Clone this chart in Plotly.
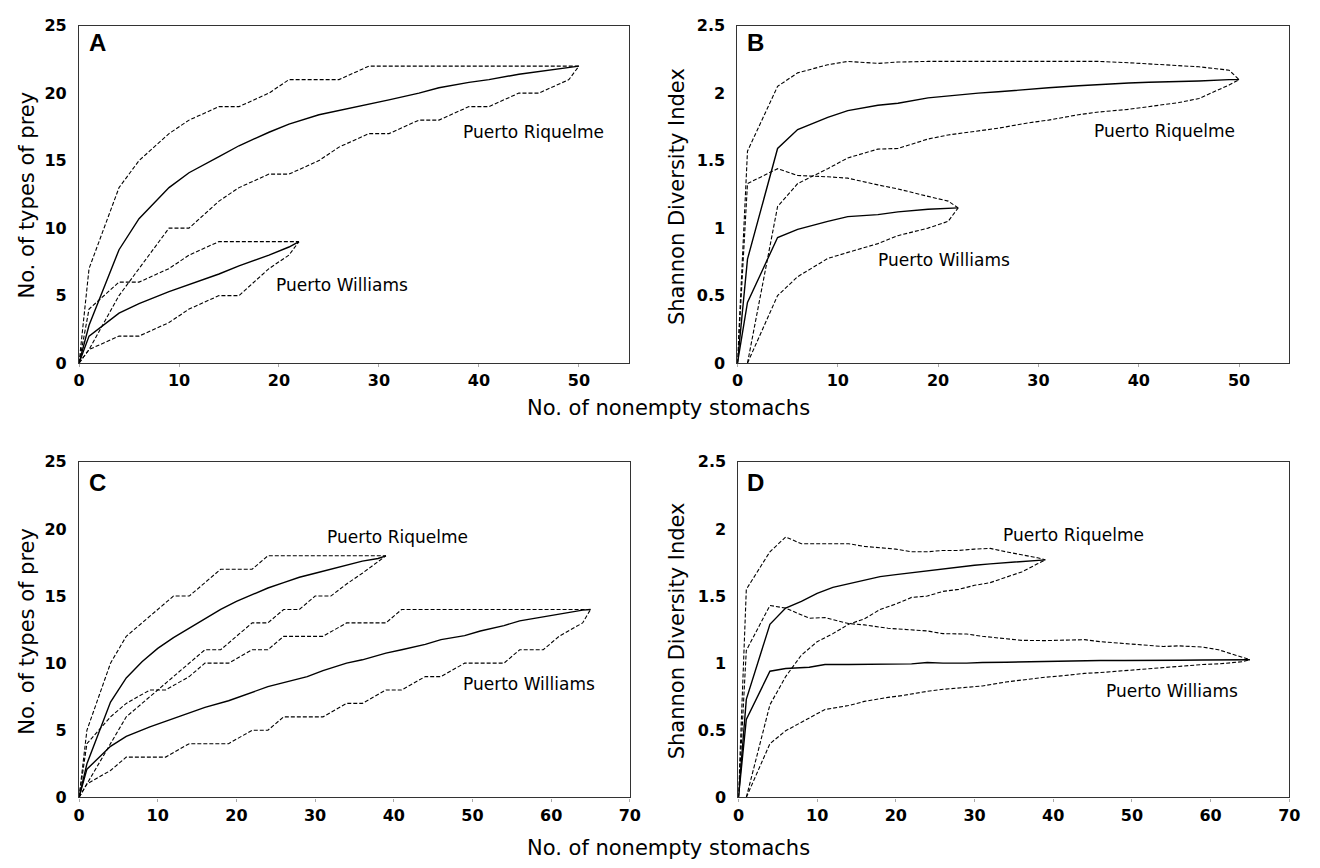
import plotly.graph_objects as go

# ---------------- Panel A: No. of prey types, sample 1 ----------------
a_pr_x = [0, 1, 4, 6, 9, 11, 14, 16, 19, 21, 24, 26, 29, 31, 34, 36, 39, 41, 44, 46, 49, 50]
a_pr_mean = [0, 2.8, 8.4, 10.7, 13.0, 14.1, 15.3, 16.1, 17.1, 17.7, 18.4, 18.7, 19.2, 19.5, 20.0, 20.4, 20.8, 21.0, 21.4, 21.6, 21.9, 22]
a_pr_up = [0, 7, 13, 15, 17, 18, 19, 19, 20, 21, 21, 21, 22, 22, 22, 22, 22, 22, 22, 22, 22, 22]
a_pr_lo = [0, 1, 5, 7, 10, 10, 12, 13, 14, 14, 15, 16, 17, 17, 18, 18, 19, 19, 20, 20, 21, 22]

a_pw_x = [0, 1, 4, 6, 9, 11, 14, 16, 19, 21, 22]
a_pw_mean = [0, 2.0, 3.7, 4.4, 5.3, 5.8, 6.6, 7.2, 8.0, 8.6, 9]
a_pw_up = [0, 4, 6, 6, 7, 8, 9, 9, 9, 9, 9]
a_pw_lo = [0, 1, 2, 2, 3, 4, 5, 5, 7, 8, 9]

# ---------------- Panel B: Shannon index, sample 1 ----------------
b_pr_x = a_pr_x
b_pr_mean = [0, 0.77, 1.59, 1.73, 1.82, 1.87, 1.91, 1.925, 1.965, 1.98, 2.0, 2.01, 2.03, 2.04, 2.055, 2.065, 2.075, 2.08, 2.085, 2.09, 2.1, 2.1]
b_pr_up = [0, 1.57, 2.05, 2.15, 2.21, 2.235, 2.22, 2.23, 2.235, 2.235, 2.24, 2.24, 2.24, 2.24, 2.24, 2.235, 2.225, 2.215, 2.205, 2.195, 2.17, 2.10]
b_pr_lo_x = [1, 4, 6, 9, 11, 14, 16, 19, 21, 24, 26, 29, 31, 34, 36, 39, 41, 44, 46, 49, 50]
b_pr_lo = [0, 1.16, 1.33, 1.44, 1.52, 1.585, 1.59, 1.66, 1.69, 1.72, 1.74, 1.78, 1.80, 1.84, 1.86, 1.88, 1.90, 1.93, 1.96, 2.06, 2.10]

b_pw_x = a_pw_x
b_pw_mean = [0, 0.45, 0.93, 0.99, 1.05, 1.085, 1.10, 1.12, 1.14, 1.15, 1.15]
b_pw_up = [0, 1.33, 1.44, 1.39, 1.38, 1.37, 1.32, 1.29, 1.235, 1.20, 1.15]
b_pw_lo_x = [1, 4, 6, 9, 11, 14, 16, 19, 21, 22]
b_pw_lo = [0, 0.50, 0.64, 0.775, 0.82, 0.885, 0.944, 1.0, 1.05, 1.15]

# ---------------- Panel C: No. of prey types, sample 2 ----------------
c_pr_x = [0, 1, 4, 6, 8, 10, 12, 14, 16, 18, 20, 22, 24, 26, 28, 30, 32, 34, 36, 38, 39]
c_pr_mean = [0, 2.5, 7.1, 8.9, 10.1, 11.1, 11.9, 12.6, 13.3, 14.0, 14.6, 15.1, 15.6, 16.0, 16.4, 16.7, 17.0, 17.3, 17.6, 17.8, 18]
c_pr_up = [0, 5, 10, 12, 13, 14, 15, 15, 16, 17, 17, 17, 18, 18, 18, 18, 18, 18, 18, 18, 18]
c_pr_lo = [0, 1, 4, 6, 7, 8, 9, 10, 11, 11, 12, 13, 13, 14, 14, 15, 15, 15.9, 16.7, 17.6, 18]

c_pw_x = [0, 1, 4, 6, 9, 11, 14, 16, 19, 22, 24, 26, 29, 31, 34, 36, 39, 41, 44, 46, 49, 51, 54, 56, 59, 61, 64, 65]
c_pw_mean = [0, 2.1, 3.8, 4.55, 5.25, 5.65, 6.25, 6.7, 7.2, 7.8, 8.25, 8.55, 9.0, 9.45, 10.0, 10.25, 10.75, 11.0, 11.4, 11.75, 12.05, 12.4, 12.8, 13.15, 13.45, 13.7, 13.95, 14.0]
c_pw_up = [0, 4, 6, 7, 8, 8, 9, 10, 10, 11, 11, 12, 12, 12, 13, 13, 13, 14, 14, 14, 14, 14, 14, 14, 14, 14, 14, 14]
c_pw_lo = [0, 1, 2, 3, 3, 3, 4, 4, 4, 5, 5, 6, 6, 6, 7, 7, 8, 8, 9, 9, 10, 10, 10, 11, 11, 12, 13, 14]

# ---------------- Panel D: Shannon index, sample 2 ----------------
d_pr_x = c_pr_x
d_pr_mean = [0, 0.73, 1.29, 1.41, 1.46, 1.52, 1.565, 1.59, 1.615, 1.645, 1.66, 1.675, 1.685, 1.705, 1.72, 1.73, 1.74, 1.75, 1.76, 1.77, 1.77]
d_pr_up = [0, 1.55, 1.83, 1.94, 1.89, 1.89, 1.89, 1.89, 1.87, 1.86, 1.85, 1.83, 1.83, 1.84, 1.84, 1.85, 1.855, 1.83, 1.81, 1.785, 1.77]
d_pr_lo_x = [1, 4, 6, 8, 10, 12, 14, 16, 18, 20, 22, 24, 26, 28, 30, 32, 34, 36, 38, 39]
d_pr_lo = [0, 0.69, 0.90, 1.06, 1.16, 1.22, 1.29, 1.33, 1.40, 1.44, 1.49, 1.50, 1.535, 1.55, 1.58, 1.60, 1.64, 1.68, 1.74, 1.77]

d_pw_x = c_pw_x
d_pw_mean = [0, 0.58, 0.94, 0.96, 0.97, 0.99, 0.99, 0.99, 0.99, 0.995, 1.005, 1.0, 1.0, 1.005, 1.007, 1.01, 1.013, 1.015, 1.017, 1.02, 1.02, 1.022, 1.022, 1.022, 1.024, 1.025, 1.026, 1.026]
d_pw_up = [0, 1.095, 1.43, 1.41, 1.335, 1.34, 1.295, 1.285, 1.26, 1.25, 1.24, 1.22, 1.217, 1.20, 1.18, 1.17, 1.168, 1.17, 1.175, 1.16, 1.145, 1.135, 1.124, 1.129, 1.12, 1.10, 1.045, 1.026]
d_pw_lo_x = [1, 4, 6, 9, 11, 14, 16, 19, 21, 24, 26, 29, 31, 34, 36, 39, 41, 44, 46, 49, 51, 54, 56, 59, 61, 64, 65]
d_pw_lo = [0, 0.40, 0.496, 0.594, 0.655, 0.684, 0.715, 0.745, 0.76, 0.79, 0.805, 0.82, 0.83, 0.86, 0.875, 0.895, 0.905, 0.924, 0.93, 0.945, 0.955, 0.965, 0.975, 0.99, 0.995, 1.01, 1.026]

panel_letters = ["A", "B", "C", "D"]
site_names = ["Puerto Riquelme", "Puerto Williams"]
y_title_prey = "No. of types of prey"
y_title_shannon = "Shannon Diversity Index"
x_title = "No. of nonempty stomachs"

FONT = "DejaVu Sans, Verdana, sans-serif"
fig = go.Figure()

SOLID = dict(color="black", width=1.4)
DASH = dict(color="black", width=1.1, dash="4px,2px")


def add_band(xa, ya, x, mean, up, lo_x, lo):
    fig.add_trace(go.Scatter(x=x, y=up, mode="lines", line=DASH, xaxis=xa, yaxis=ya, showlegend=False))
    fig.add_trace(go.Scatter(x=lo_x, y=lo, mode="lines", line=DASH, xaxis=xa, yaxis=ya, showlegend=False))
    fig.add_trace(go.Scatter(x=x, y=mean, mode="lines", line=SOLID, xaxis=xa, yaxis=ya, showlegend=False))


add_band("x", "y", a_pr_x, a_pr_mean, a_pr_up, a_pr_x, a_pr_lo)
add_band("x", "y", a_pw_x, a_pw_mean, a_pw_up, a_pw_x, a_pw_lo)
add_band("x2", "y2", b_pr_x, b_pr_mean, b_pr_up, b_pr_lo_x, b_pr_lo)
add_band("x2", "y2", b_pw_x, b_pw_mean, b_pw_up, b_pw_lo_x, b_pw_lo)
add_band("x3", "y3", c_pr_x, c_pr_mean, c_pr_up, c_pr_x, c_pr_lo)
add_band("x3", "y3", c_pw_x, c_pw_mean, c_pw_up, c_pw_x, c_pw_lo)
add_band("x4", "y4", d_pr_x, d_pr_mean, d_pr_up, d_pr_lo_x, d_pr_lo)
add_band("x4", "y4", d_pw_x, d_pw_mean, d_pw_up, d_pw_lo_x, d_pw_lo)

W, H = 1320, 868
def px(v):
    return v / W
def py(v):
    return 1 - v / H

tickfont = dict(family=FONT, size=16, color="black", weight="bold")

def xaxis(dom, rng, anchor):
    return dict(domain=dom, range=rng, dtick=10, tick0=0, anchor=anchor,
                showline=True, linecolor="#333", linewidth=1.3, mirror=True,
                ticks="outside", ticklen=3, tickcolor="#aaa", tickwidth=1,
                showgrid=False, zeroline=False, tickfont=tickfont, ticklabelstandoff=0)

def yaxis(dom, rng, dt, anchor):
    return dict(domain=dom, range=rng, dtick=dt, tick0=0, anchor=anchor,
                showline=True, linecolor="#333", linewidth=1.3, mirror=True,
                ticks="", showgrid=False, zeroline=False, tickfont=tickfont,
                ticklabelstandoff=8)

top = [py(362), py(17)]
bot = [py(806), py(463)]
fig.update_layout(
    width=W, height=H, margin=dict(l=0, r=0, t=0, b=0),
    paper_bgcolor="white", plot_bgcolor="white",
    xaxis=xaxis([px(74), px(631)], [0, 55], "y"),
    yaxis=yaxis(top, [0, 25], 5, "x"),
    xaxis2=xaxis([px(741), px(1300)], [0, 55], "y2"),
    yaxis2=yaxis(top, [0, 2.5], 0.5, "x2"),
    xaxis3=xaxis([px(74), px(632)], [0, 70], "y3"),
    yaxis3=yaxis(bot, [0, 25], 5, "x3"),
    xaxis4=xaxis([px(742), px(1300)], [0, 70], "y4"),
    yaxis4=yaxis(bot, [0, 2.5], 0.5, "x4"),
)

ann_font = dict(family=FONT, size=17, color="black")
labels = [
    ("x", "y", 38.2, 17.1, site_names[0]),
    ("x", "y", 19.5, 5.75, site_names[1]),
    ("x2", "y2", 35.3, 1.717, site_names[0]),
    ("x2", "y2", 13.85, 0.763, site_names[1]),
    ("x3", "y3", 31.2, 19.4, site_names[0]),
    ("x3", "y3", 48.6, 8.48, site_names[1]),
    ("x4", "y4", 33.4, 1.955, site_names[0]),
    ("x4", "y4", 46.4, 0.79, site_names[1]),
]
for xr, yr, xv, yv, t in labels:
    fig.add_annotation(x=xv, y=yv, xref=xr, yref=yr, text=t, showarrow=False,
                       xanchor="left", yanchor="middle", font=ann_font)

letter_font = dict(family="Arial, Liberation Sans, sans-serif", size=24, color="black", weight="bold")
letter_pos = [(82, 34), (749, 34), (82, 484), (749, 484)]
for (lx, ly), L in zip(letter_pos, panel_letters):
    fig.add_annotation(x=px(lx), y=py(ly), xref="paper", yref="paper", text=L, showarrow=False,
                       xanchor="left", yanchor="middle", font=letter_font)

title_font = dict(family=FONT, size=21, color="black")
fig.add_annotation(x=px(671), y=py(408), xref="paper", yref="paper", text=x_title, showarrow=False,
                   xanchor="center", yanchor="middle", font=title_font)
fig.add_annotation(x=px(671), y=0, xref="paper", yref="paper", text=x_title, showarrow=False,
                   xanchor="center", yanchor="bottom", yshift=-4, font=title_font)

ytitles = [(21, 190, y_title_prey), (680, 192, y_title_shannon),
           (21, 636, y_title_prey), (680, 636, y_title_shannon)]
for tx, ty, t in ytitles:
    fig.add_annotation(x=px(tx), y=py(ty), xref="paper", yref="paper", text=t, showarrow=False,
                       textangle=-90, xanchor="center", yanchor="middle", font=title_font)

fig.write_html("out.html")
